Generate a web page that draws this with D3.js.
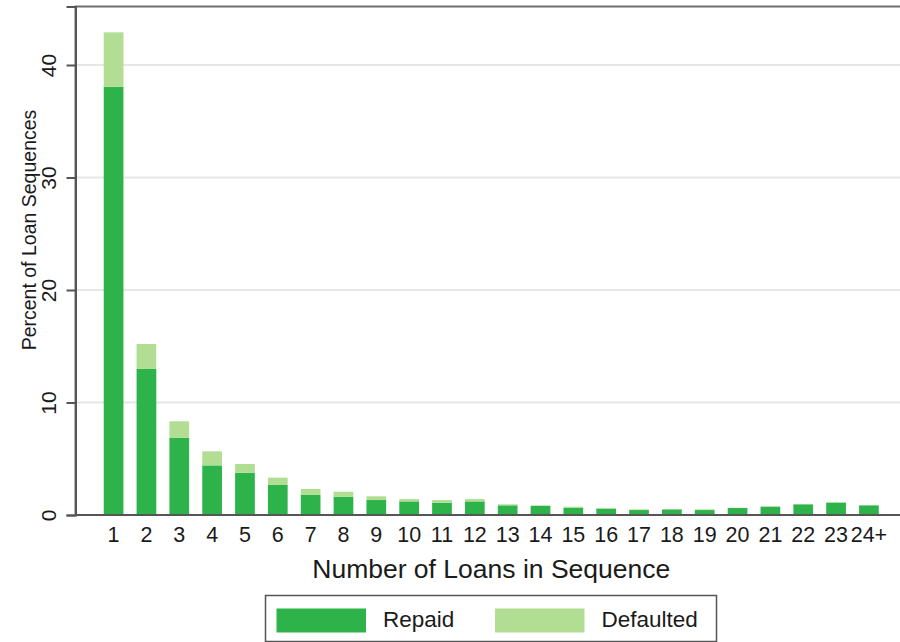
<!DOCTYPE html>
<html>
<head>
<meta charset="utf-8">
<script src="https://cdn.jsdelivr.net/npm/d3@7"></script>
<style>
  body { margin: 0; background: #fff; }
  text { font-family: "Liberation Sans", Arial, sans-serif; fill: #1a1a1a; }
</style>
</head>
<body>
<div id="chart"></div>
<script>
var width = 900,
    height = 642

// categories on the x axis
var categories = ["1","2","3","4","5","6","7","8","9","10","11","12",
                  "13","14","15","16","17","18","19","20","21","22","23","24+"]
// percent of loan sequences, repaid part and defaulted part
var repaid    = [38.07, 12.98, 6.87, 4.41, 3.76, 2.67, 1.78, 1.63, 1.33, 1.21, 1.10, 1.21,
                 0.86, 0.80, 0.65, 0.56, 0.44, 0.50, 0.44, 0.62, 0.74, 0.95, 1.10, 0.86]
var defaulted = [4.83, 2.22, 1.46, 1.25, 0.77, 0.65, 0.53, 0.44, 0.33, 0.21, 0.23, 0.21,
                 0.09, 0.06, 0.09, 0.06, 0.06, 0.03, 0.06, 0.03, 0.03, 0.03, 0.03, 0.03]
var yTicks = [0, 10, 20, 30, 40]
var seriesNames = ["Repaid", "Defaulted"]

var color = d3.scaleOrdinal()
  .domain(seriesNames)
  .range(["#2db34a", "#b1de93"])

var plot = {left: 75.5, right: 907, top: 6.5, bottom: 515}

var svg = d3.select("#chart")
  .append("svg")
    .attr("width", width)
    .attr("height", height)

var x = d3.scaleBand()
  .domain(categories)
  .range([plot.left, plot.right])
  .paddingInner(0.4)
  .paddingOuter(0.86)

var y = d3.scaleLinear()
  .domain([0, 45.2])
  .range([plot.bottom, plot.top])

// gridlines
svg.selectAll("grid")
  .data(yTicks.filter(function(d){ return d > 0 }))
  .enter()
  .append("line")
    .attr("x1", plot.left)
    .attr("x2", plot.right)
    .attr("y1", function(d){ return y(d) })
    .attr("y2", function(d){ return y(d) })
    .attr("stroke", "#e6e6e6")
    .attr("stroke-width", 2)

// stack the two series
var rows = categories.map(function(c, i){
  return {cat: c, Repaid: repaid[i], Defaulted: defaulted[i]}
})
var stacked = d3.stack().keys(seriesNames)(rows)

svg.selectAll("series")
  .data(stacked)
  .enter()
  .append("g")
    .attr("fill", function(d){ return color(d.key) })
  .selectAll("rect")
  .data(function(d){ return d })
  .enter()
  .append("rect")
    .attr("x", function(d){ return x(d.data.cat) })
    .attr("width", x.bandwidth())
    .attr("y", function(d){ return y(d[1]) })
    .attr("height", function(d){ return y(d[0]) - y(d[1]) })

// plot frame (top edge visible, right edge runs off the picture)
svg.append("path")
  .attr("d", "M" + plot.left + "," + plot.bottom + "V" + plot.top + "H" + plot.right)
  .attr("fill", "none")
  .attr("stroke", "#6e6e6e")
  .attr("stroke-width", 2)

// y axis
var yAxis = svg.append("g")
  .attr("transform", "translate(" + plot.left + ",0)")
  .call(d3.axisLeft(y).tickValues(yTicks).tickSize(9).tickPadding(0).tickFormat(d3.format("d")))
yAxis.select(".domain").attr("stroke", "#555").attr("stroke-width", 2)
yAxis.selectAll(".tick line").attr("stroke", "#555").attr("stroke-width", 2)
yAxis.selectAll(".tick text")
  .attr("x", 0).attr("dy", 0)
  .attr("transform", "translate(-19.5,0) rotate(-90)")
  .attr("text-anchor", "middle")
  .style("font-size", "21px")
  .attr("fill", "#1a1a1a")

// x axis
var xAxis = svg.append("g")
  .attr("transform", "translate(0," + plot.bottom + ")")
  .call(d3.axisBottom(x).tickSize(0).tickPadding(0))
xAxis.select(".domain").attr("d", "M" + plot.left + ",0H" + plot.right)
  .attr("stroke", "#555").attr("stroke-width", 2)
xAxis.selectAll(".tick text")
  .attr("y", 26.5).attr("dy", 0)
  .style("font-size", "21.5px")
  .attr("fill", "#1a1a1a")

// axis titles
svg.append("text")
  .attr("x", (plot.left + plot.right) / 2)
  .attr("y", 578)
  .attr("text-anchor", "middle")
  .style("font-size", "26.5px")
  .text("Number of Loans in Sequence")

svg.append("text")
  .attr("transform", "translate(36,230) rotate(-90)")
  .attr("text-anchor", "middle")
  .style("font-size", "19.5px")
  .text("Percent of Loan Sequences")

// legend
var legend = svg.append("g")
legend.append("rect")
  .attr("x", 265.5).attr("y", 595.5)
  .attr("width", 451).attr("height", 46)
  .attr("fill", "#fff")
  .attr("stroke", "#555")
  .attr("stroke-width", 1.5)

var legendX = [276.5, 495]
legend.selectAll("swatch")
  .data(seriesNames)
  .enter()
  .append("rect")
    .attr("x", function(d, i){ return legendX[i] })
    .attr("y", 608.5)
    .attr("width", 89.5)
    .attr("height", 24)
    .attr("fill", function(d){ return color(d) })

legend.selectAll("label")
  .data(seriesNames)
  .enter()
  .append("text")
    .attr("x", function(d, i){ return legendX[i] + 106.5 })
    .attr("y", 627)
    .style("font-size", "22.5px")
    .text(function(d){ return d })
</script>
</body>
</html>
